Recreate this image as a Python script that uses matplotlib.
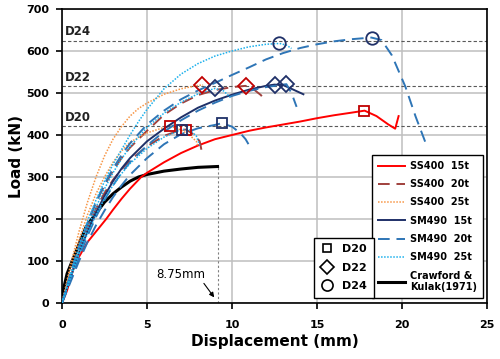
import matplotlib
matplotlib.use("Agg")
import matplotlib.pyplot as plt
from matplotlib.lines import Line2D

# --- dati (mm, kN) ---
# SS400 15t (D20)
x_ss15 = [0, 0.3, 0.76, 1, 1.5, 2, 2.6, 3, 3.5, 4, 4.66, 5, 6, 7, 8, 9, 10, 11, 12, 13, 14, 15, 16, 17, 17.8, 18.5, 19.2, 19.6, 19.8]
y_ss15 = [0, 30, 94, 110, 145, 170, 200, 222, 248, 272, 300, 310, 335, 357, 375, 390, 400, 410, 418, 425, 432, 440, 447, 453, 458, 445, 425, 415, 445]
# SS400 20t D20 / D22
x_ss20_d20 = [0, 0.5, 1, 1.5, 2, 2.5, 3, 3.5, 4, 5, 6, 7, 7.3, 7.8, 8.1, 8.2]
y_ss20_d20 = [0, 65, 125, 180, 225, 262, 293, 318, 340, 373, 398, 412, 413, 400, 385, 365]
x_ss20_d22 = [0, 0.5, 1, 1.5, 2, 2.5, 3, 3.5, 4, 5, 6, 7, 8, 9, 10, 10.8, 11.3, 11.7, 12]
y_ss20_d22 = [0, 70, 135, 190, 240, 280, 315, 345, 370, 410, 448, 475, 495, 507, 514, 517, 508, 495, 480]
# SS400 25t D20 / D22
x_ss25_d20 = [0, 0.5, 1, 1.5, 2, 2.5, 3, 3.5, 4, 5, 6, 6.4, 7, 7.5, 7.9, 8.0]
y_ss25_d20 = [0, 80, 150, 210, 260, 300, 335, 362, 383, 405, 418, 421, 412, 400, 385, 372]
x_ss25_d22 = [0, 0.5, 1, 1.5, 2, 2.5, 3, 3.5, 4, 4.5, 5, 6, 7, 8, 8.3]
y_ss25_d22 = [0, 90, 170, 240, 300, 350, 390, 420, 445, 463, 476, 497, 510, 518, 519]
# SM490 15t D22
x_sm15 = [0, 0.5, 1, 1.5, 2, 2.5, 3, 3.5, 4, 5, 6, 7, 8, 9, 10, 11, 12, 12.5, 13, 13.5, 14.2]
y_sm15 = [0, 60, 120, 170, 215, 255, 290, 320, 345, 385, 415, 442, 465, 482, 496, 508, 517, 520, 519, 510, 497]
# SM490 20t D20 / D22 / D24
x_sm20_d20 = [0, 0.5, 1, 1.5, 2, 2.5, 3, 3.5, 4, 5, 6, 7, 8, 9, 9.4, 10, 10.5, 10.8, 11]
y_sm20_d20 = [0, 50, 100, 145, 185, 220, 252, 280, 305, 345, 378, 402, 416, 424, 428, 420, 404, 390, 376]
x_sm20_d22 = [0, 0.5, 1, 1.5, 2, 2.5, 3, 3.5, 4, 5, 6, 7, 8, 9, 10, 11, 12, 13, 13.2, 13.5, 13.8]
y_sm20_d22 = [0, 55, 110, 160, 205, 245, 280, 310, 335, 375, 408, 435, 458, 477, 493, 505, 514, 520, 521, 500, 467]
x_sm20_d24 = [0, 0.5, 1, 1.5, 2, 2.5, 3, 3.5, 4, 5, 6, 7, 8, 9, 10, 11, 12, 13, 14, 15, 16, 17, 18.2, 18.8, 19.4, 20.2, 20.8, 21.4]
y_sm20_d24 = [0, 70, 135, 190, 240, 283, 320, 352, 380, 425, 458, 485, 506, 524, 543, 561, 580, 595, 607, 616, 623, 628, 632, 626, 590, 515, 444, 380]
# SM490 25t D20 / D22 / D24
x_sm25_d20 = [0, 0.5, 1, 1.5, 2, 2.5, 3, 3.5, 4, 5, 6, 7, 7.5, 7.9, 8.1]
y_sm25_d20 = [0, 60, 115, 165, 210, 248, 280, 308, 332, 368, 395, 413, 412, 398, 375]
x_sm25_d22 = [0, 0.5, 1, 1.5, 2, 2.5, 3, 3.5, 4, 5, 6, 7, 8, 9, 9.5, 9.9]
y_sm25_d22 = [0, 62, 122, 178, 228, 272, 310, 343, 372, 418, 452, 478, 498, 511, 505, 490]
x_sm25_d24 = [0, 0.5, 1, 1.5, 2, 2.5, 3, 3.5, 4, 4.5, 5, 6, 7, 8, 9, 10, 11, 12, 12.8, 13.2, 13.5]
y_sm25_d24 = [0, 70, 135, 195, 245, 290, 330, 365, 400, 432, 461, 510, 545, 570, 588, 600, 610, 616, 618, 614, 606]
# Crawford & Kulak (1971)
x_ck = [0, 0.1, 0.3, 0.6, 1, 1.4, 1.75, 2.5, 3, 3.5, 4, 4.5, 5, 6, 7, 8, 9.15]
y_ck = [0, 35, 70, 100, 140, 180, 200, 240, 260, 276, 290, 300, 306, 314, 319, 323, 325]

# marcatori di picco: (x, y, diametro, acciaio)
picchi_x = [17.76, 7.27, 6.35, 9.43, 7.04, 10.8, 8.25, 12.5, 13.2, 9.0, 18.25, 12.76]
picchi_y = [458, 413, 421, 428, 413, 517, 519, 520, 521, 511, 632, 618]
picchi_d = ["D20", "D20", "D20", "D20", "D20", "D22", "D22", "D22", "D22", "D22", "D24", "D24"]
picchi_s = ["SS", "SS", "SS", "SM", "SM", "SS", "SS", "SM", "SM", "SM", "SM", "SM"]

livelli_d = {"D20": 421, "D22": 517, "D24": 625}

c_red = "#FF0000"
c_brown = "#A0403C"
c_orange = "#F79646"
c_navy = "#1F3068"
c_blue = "#2E75B6"
c_cyan = "#1CB0EC"
c_mk_red = "#C00000"
c_mk_navy = "#1F3068"

fig = plt.figure(figsize=(5, 3.59), dpi=100)
ax = fig.add_axes([62 / 500, 1 - 303 / 359, 425 / 500, 294 / 359])

dash = (0, (6, 3.5))
dot = (0, (1, 1))

ax.plot(x_ck, y_ck, color="black", lw=2.2, zorder=3)
ax.plot(x_ss15, y_ss15, color=c_red, lw=1.4, zorder=3)
ax.plot(x_ss20_d20, y_ss20_d20, color=c_brown, lw=1.4, ls=dash, zorder=3)
ax.plot(x_ss20_d22, y_ss20_d22, color=c_brown, lw=1.4, ls=dash, zorder=3)
ax.plot(x_ss25_d20, y_ss25_d20, color=c_orange, lw=1.1, ls=dot, zorder=3)
ax.plot(x_ss25_d22, y_ss25_d22, color=c_orange, lw=1.1, ls=dot, zorder=3)
ax.plot(x_sm15, y_sm15, color=c_navy, lw=1.4, zorder=3)
ax.plot(x_sm20_d20, y_sm20_d20, color=c_blue, lw=1.4, ls=dash, zorder=3)
ax.plot(x_sm20_d22, y_sm20_d22, color=c_blue, lw=1.4, ls=dash, zorder=3)
ax.plot(x_sm20_d24, y_sm20_d24, color=c_blue, lw=1.4, ls=dash, zorder=3)
ax.plot(x_sm25_d20, y_sm25_d20, color=c_cyan, lw=1.1, ls=dot, zorder=3)
ax.plot(x_sm25_d22, y_sm25_d22, color=c_cyan, lw=1.1, ls=dot, zorder=3)
ax.plot(x_sm25_d24, y_sm25_d24, color=c_cyan, lw=1.1, ls=dot, zorder=3)

forme = {"D20": ("s", 7), "D22": ("D", 8), "D24": ("o", 9)}
for px, py, d, s in zip(picchi_x, picchi_y, picchi_d, picchi_s):
    m, ms = forme[d]
    col = c_mk_red if s == "SS" else c_mk_navy
    ax.plot(px, py, marker=m, ms=ms, mfc="none", mec=col, mew=1.3, zorder=4)

# livelli resistenza bullone
for nome, val in livelli_d.items():
    ax.axhline(val, color="#595959", lw=0.8, ls=(0, (3, 2)), zorder=2)
    ax.text(0.15, val + 5, nome, fontsize=8.5, fontweight="bold", color="#222222",
            va="bottom", ha="left")

# 8.75mm
ax.plot([x_ck[-1], x_ck[-1]], [0, y_ck[-1]], color="#7F7F7F", lw=0.8, ls=(0, (2, 2)), zorder=2)
ax.annotate("", xy=(x_ck[-1] - 0.1, 8), xytext=(8.25, 52),
            arrowprops=dict(arrowstyle="-|>", color="black", lw=0.8, mutation_scale=7))
ax.text(7.0, 68, "8.75mm", fontsize=8.5, ha="center", va="center")

ax.set_xlim(0, 25)
ax.set_ylim(0, 700)
ax.set_xticks(range(0, 26, 5))
ax.set_yticks(range(0, 701, 100))
ax.grid(True, color="#BFBFBF", lw=1.1, zorder=0)
ax.set_axisbelow(True)
ax.tick_params(labelsize=8, length=4, width=1.2, direction="out")
ax.tick_params(axis="x", pad=8)
ax.tick_params(axis="y", pad=5)
for lab in ax.get_xticklabels() + ax.get_yticklabels():
    lab.set_fontweight("bold")
for sp in ax.spines.values():
    sp.set_linewidth(1.2)
ax.set_xlabel("Displacement (mm)", fontsize=11, fontweight="bold", labelpad=3)
ax.set_ylabel("Load (kN)", fontsize=11, fontweight="bold", labelpad=2)

# legenda curve
h1 = [
    Line2D([], [], color=c_red, lw=1.4),
    Line2D([], [], color=c_brown, lw=1.4, ls=dash),
    Line2D([], [], color=c_orange, lw=1.1, ls=dot),
    Line2D([], [], color=c_navy, lw=1.4),
    Line2D([], [], color=c_blue, lw=1.4, ls=dash),
    Line2D([], [], color=c_cyan, lw=1.1, ls=dot),
    Line2D([], [], color="black", lw=2.2),
]
l1 = ["SS400  15t", "SS400  20t", "SS400  25t", "SM490  15t", "SM490  20t", "SM490  25t",
      "Crawford &\nKulak(1971)"]
leg1 = ax.legend(h1, l1, loc="upper right", bbox_to_anchor=(0.991, 0.503),
                 prop={"weight": "bold", "size": 7},
                 frameon=True, fancybox=False, edgecolor="black", framealpha=1,
                 handlelength=2.8, handletextpad=0.5, labelspacing=0.85,
                 borderpad=0.6, borderaxespad=0)
leg1.get_frame().set_linewidth(1.0)
ax.add_artist(leg1)

h2 = [Line2D([], [], ls="none", marker=forme[d][0], ms=forme[d][1] - 1, mfc="none",
             mec="black", mew=1.2) for d in ["D20", "D22", "D24"]]
leg2 = ax.legend(h2, ["D20", "D22", "D24"], loc="lower right", bbox_to_anchor=(0.734, 0.018),
                 prop={"weight": "bold", "size": 8}, frameon=True, fancybox=False,
                 edgecolor="black", framealpha=1, handlelength=1.2, handletextpad=0.8,
                 labelspacing=0.75, borderpad=0.6, borderaxespad=0)
leg2.get_frame().set_linewidth(1.0)

fig.savefig("out.png", dpi=100)
